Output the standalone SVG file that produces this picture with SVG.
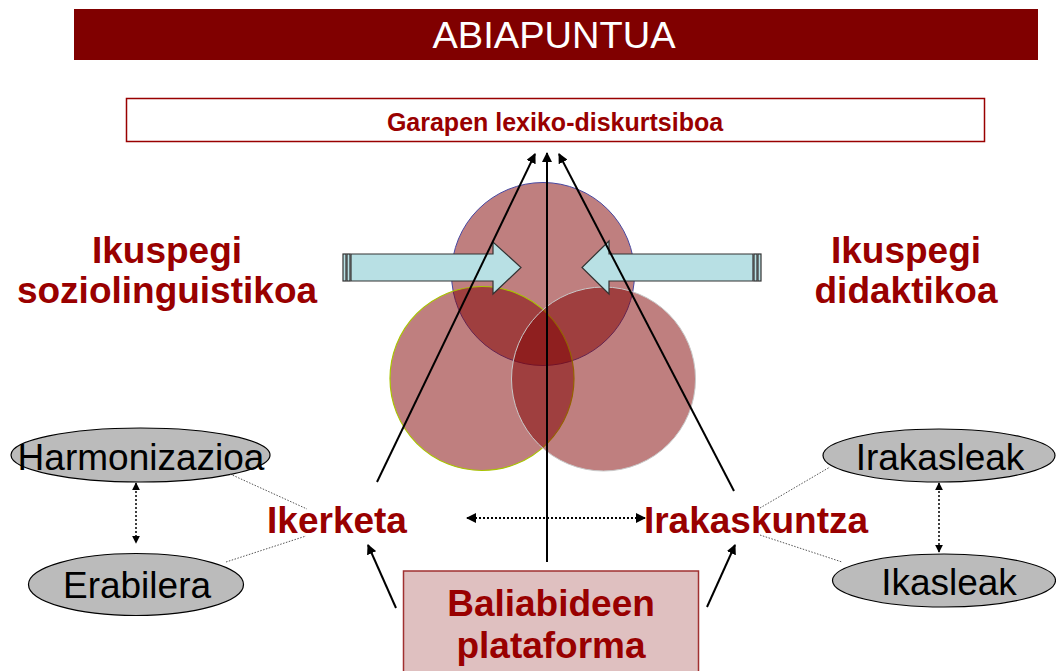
<svg xmlns="http://www.w3.org/2000/svg" width="1056" height="671" viewBox="0 0 1056 671">
<style>
.t{font-family:"Liberation Sans",Arial,sans-serif;}
.red{fill:#990000;font-weight:bold;font-size:37px;}
.ell{fill:#bbbbbb;stroke:#000;stroke-width:1.2;}
.etx{font-family:"Liberation Sans",Arial,sans-serif;font-size:37px;fill:#000;}
.ln{stroke:#000;stroke-width:2;fill:none;}
.dl{stroke:#555;stroke-width:1;stroke-dasharray:1.5 1.5;fill:none;}
.dar{stroke:#000;fill:none;stroke-dasharray:2 2;}
.blk{fill:#b8e0e4;stroke:#333;stroke-width:1.2;}
.circ{fill:#800000;fill-opacity:0.5;}
</style>
<defs>
<marker id="ah" viewBox="0 0 10 10" refX="9" refY="5" markerWidth="10" markerHeight="10" markerUnits="userSpaceOnUse" orient="auto-start-reverse">
<path d="M0,0 L10,5 L0,10 Z" fill="#000"/>
</marker>
<marker id="ahs" viewBox="0 0 10 10" refX="9" refY="5" markerWidth="8" markerHeight="8" markerUnits="userSpaceOnUse" orient="auto-start-reverse">
<path d="M0,0 L10,5 L0,10 Z" fill="#000"/>
</marker>
</defs>

<g id="banner">
<rect x="74" y="9" width="964" height="51" fill="#800000"/>
<text class="t" x="554" y="48" font-size="36" fill="#fff" text-anchor="middle" textLength="243" lengthAdjust="spacingAndGlyphs">ABIAPUNTUA</text>
</g>

<g id="garapen">
<rect x="126.5" y="98.5" width="858" height="43" fill="#fff" stroke="#990000" stroke-width="1.5"/>
<text class="t" x="555" y="131" font-size="25" font-weight="bold" fill="#990000" text-anchor="middle">Garapen lexiko-diskurtsiboa</text>
</g>

<g id="circles">
<circle class="circ" cx="543" cy="274" r="91.5" stroke="#4848a0" stroke-width="1"/>
<circle class="circ" cx="482" cy="378.5" r="92" stroke="#a8c400" stroke-width="1.2"/>
<circle class="circ" cx="603.5" cy="379" r="92" stroke="#c8c8c8" stroke-width="1"/>
</g>

<g id="arrow-left">
<rect class="blk" x="343" y="254" width="3" height="27"/>
<rect class="blk" x="347" y="254" width="3" height="27"/>
<path class="blk" d="M351,254 H493 V242 L521,267.5 L493,294 V281 H351 Z"/>
</g>
<g id="arrow-right">
<rect class="blk" x="754" y="254" width="3" height="27"/>
<rect class="blk" x="758" y="254" width="3" height="27"/>
<path class="blk" d="M753,254 H609 V241 L582,267.5 L609,294 V281 H753 Z"/>
</g>

<g id="ikuspegi-soziolinguistikoa">
<text class="t red" x="167" y="263" text-anchor="middle">Ikuspegi</text>
<text class="t red" x="167" y="303" text-anchor="middle">soziolinguistikoa</text>
</g>
<g id="ikuspegi-didaktikoa">
<text class="t red" x="906" y="263" text-anchor="middle">Ikuspegi</text>
<text class="t red" x="906" y="303" text-anchor="middle">didaktikoa</text>
</g>

<g id="harmonizazioa">
<ellipse class="ell" cx="140.5" cy="455" rx="129.5" ry="27"/>
<text class="etx" x="141" y="470" text-anchor="middle">Harmonizazioa</text>
</g>
<g id="erabilera">
<ellipse class="ell" cx="136" cy="584.5" rx="107.5" ry="31"/>
<text class="etx" x="137" y="598" text-anchor="middle">Erabilera</text>
</g>
<g id="irakasleak">
<ellipse class="ell" cx="939" cy="455.5" rx="116" ry="26.5"/>
<text class="etx" x="940" y="470" text-anchor="middle">Irakasleak</text>
</g>
<g id="ikasleak">
<ellipse class="ell" cx="944" cy="580.5" rx="111.5" ry="26.5"/>
<text class="etx" x="949" y="595" text-anchor="middle">Ikasleak</text>
</g>

<g id="ikerketa">
<text class="t red" x="337" y="533" text-anchor="middle">Ikerketa</text>
</g>
<g id="irakaskuntza">
<text class="t red" x="756" y="533" text-anchor="middle">Irakaskuntza</text>
</g>

<g id="baliabideen-plataforma">
<rect x="403.5" y="571" width="295" height="110" fill="#dfc0c0" stroke="#a03030" stroke-width="1.5"/>
<text class="t red" x="551" y="616" text-anchor="middle">Baliabideen</text>
<text class="t red" x="551" y="658" text-anchor="middle">plataforma</text>
</g>

<g id="connectors">
<line class="ln" x1="547" y1="562" x2="547" y2="153" marker-end="url(#ah)"/>
<line class="ln" x1="377" y1="482" x2="535" y2="154" marker-end="url(#ah)"/>
<line class="ln" x1="734" y1="491" x2="559" y2="154" marker-end="url(#ah)"/>
<line class="ln" x1="396" y1="608" x2="368" y2="545" marker-end="url(#ah)"/>
<line class="ln" x1="707" y1="607" x2="735" y2="545" marker-end="url(#ah)"/>
<line class="dar" stroke-width="2.2" x1="467" y1="518" x2="645" y2="518" marker-start="url(#ah)" marker-end="url(#ah)"/>
<line class="dar" stroke-width="1.5" x1="136" y1="483" x2="136" y2="543" marker-start="url(#ahs)" marker-end="url(#ahs)"/>
<line class="dar" stroke-width="1.5" x1="939" y1="483" x2="939" y2="552" marker-start="url(#ahs)" marker-end="url(#ahs)"/>
<line class="dl" x1="230" y1="474" x2="307" y2="509"/>
<line class="dl" x1="226" y1="562" x2="306" y2="536"/>
<line class="dl" x1="760" y1="508" x2="830" y2="467"/>
<line class="dl" x1="760" y1="535" x2="842" y2="562"/>
</g>
</svg>
